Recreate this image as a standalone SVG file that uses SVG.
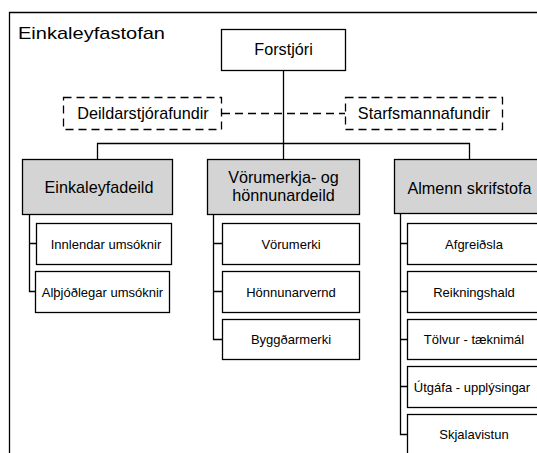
<svg xmlns="http://www.w3.org/2000/svg" width="537" height="453" viewBox="0 0 537 453">
<style>
.box{fill:#fff;stroke:#000;stroke-width:1.3}
.dept{fill:#d4d4d4;stroke:#000;stroke-width:1.3}
.dash{fill:#fff;stroke:#000;stroke-width:1.3;stroke-dasharray:8,5}
.ln{fill:none;stroke:#000;stroke-width:1.3}
.dl{fill:none;stroke:#000;stroke-width:1.3;stroke-dasharray:8,5}
text{font-family:"Liberation Sans",Arial,sans-serif;fill:#000;text-anchor:middle}
.t16{font-size:16.2px}
.t13{font-size:13px}
</style>
<rect width="537" height="453" fill="#fff"/>
<g id="frame">
<path class="ln" d="M9.5,460 V12.5 H545"/>
<text x="18" y="39" textLength="147" lengthAdjust="spacingAndGlyphs" style="text-anchor:start;font-size:17px">Einkaleyfastofan</text>
</g>
<g id="connectors">
<path class="ln" d="M283.5,70 V159"/>
<path class="ln" d="M97.5,159 V143.5 H469.5 V159"/>
<path class="dl" d="M222,113.5 H345"/>
<path class="ln" d="M29.5,214 V291.5 H35 M29.5,243.5 H36"/>
<path class="ln" d="M213.5,214 V339.5 H222 M213.5,243.5 H222 M213.5,291.5 H222"/>
<path class="ln" d="M400.5,213 V434.5 H407 M400.5,243.5 H407 M400.5,291.5 H407 M400.5,339.5 H407 M400.5,386.5 H407"/>
</g>
<g id="forstjori"><rect class="box" x="221.5" y="29.5" width="124" height="41"/><text class="t16" x="283.5" y="55">Forstjóri</text></g>
<g id="deildarstjorafundir"><rect class="dash" x="63.5" y="97.5" width="158" height="32"/><text class="t16" x="143" y="119">Deildarstjórafundir</text></g>
<g id="starfsmannafundir"><rect class="dash" x="345.5" y="97.5" width="157" height="32"/><text class="t16" x="424" y="119">Starfsmannafundir</text></g>
<g id="einkaleyfadeild"><rect class="dept" x="22.5" y="159.5" width="150" height="55"/><text class="t16" x="99" y="193">Einkaleyfadeild</text></g>
<g id="innlendar"><rect class="box" x="36.5" y="223.5" width="135" height="41"/><text class="t13" x="106" y="249">Innlendar umsóknir</text></g>
<g id="althjodlegar"><rect class="box" x="35.5" y="271.5" width="134" height="41"/><text class="t13" x="102.5" y="297">Alþjóðlegar umsóknir</text></g>
<g id="vorumerkjadeild"><rect class="dept" x="207.5" y="159.5" width="152" height="55"/><text class="t16" x="283.5" y="183">Vörumerkja- og</text><text class="t16" x="283.5" y="201">hönnunardeild</text></g>
<g id="vorumerki"><rect class="box" x="222.5" y="223.5" width="137" height="41"/><text class="t13" x="291" y="249">Vörumerki</text></g>
<g id="honnunarvernd"><rect class="box" x="222.5" y="271.5" width="137" height="41"/><text class="t13" x="291" y="297">Hönnunarvernd</text></g>
<g id="byggdarmerki"><rect class="box" x="222.5" y="319.5" width="137" height="40"/><text class="t13" x="291" y="344">Byggðarmerki</text></g>
<g id="almenn"><rect class="dept" x="394.5" y="159.5" width="152" height="54"/><text class="t16" x="469.5" y="194">Almenn skrifstofa</text></g>
<g id="afgreidsla"><rect class="box" x="407.5" y="223.5" width="137" height="41"/><text class="t13" x="474" y="249">Afgreiðsla</text></g>
<g id="reikningshald"><rect class="box" x="407.5" y="271.5" width="137" height="41"/><text class="t13" x="474" y="297">Reikningshald</text></g>
<g id="tolvur"><rect class="box" x="407.5" y="319.5" width="137" height="40"/><text class="t13" x="474" y="344">Tölvur - tæknimál</text></g>
<g id="utgafa"><rect class="box" x="407.5" y="366.5" width="137" height="41"/><text class="t13" x="472" y="392">Útgáfa - upplýsingar</text></g>
<g id="skjalavistun"><rect class="box" x="407.5" y="414.5" width="137" height="41"/><text class="t13" x="474" y="439">Skjalavistun</text></g>
</svg>
